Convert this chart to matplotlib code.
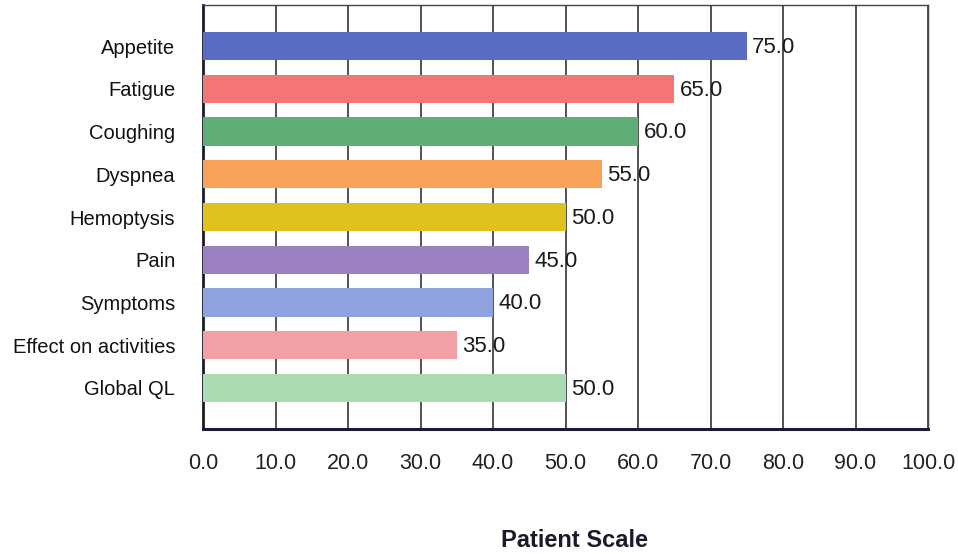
import numpy as np
import matplotlib.pyplot as plt

plt.rcParams['font.family'] = ['Liberation Sans', 'DejaVu Sans']

categories = ['Appetite', 'Fatigue', 'Coughing', 'Dyspnea', 'Hemoptysis',
              'Pain', 'Symptoms', 'Effect on activities', 'Global QL']
values = [75.0, 65.0, 60.0, 55.0, 50.0, 45.0, 40.0, 35.0, 50.0]
colors = ['#5a6cc2', '#f47674', '#5fae78', '#f8a257', '#dfc21e',
          '#9b80c0', '#8ea3e0', '#f39fa6', '#a9dcb2']
xticks = np.arange(0, 101, 10)

fig = plt.figure(figsize=(9.58, 5.54), dpi=100)
ax = fig.add_axes([0.2119, 0.2256, 0.7568, 0.7654])

y = np.arange(len(categories))
ax.barh(y, values, height=0.66, color=colors, zorder=3)

# value labels at the bar ends
for yi, v in zip(y, values):
    ax.annotate(f'{v:.1f}', (v, yi), xytext=(4, -1), textcoords='offset points',
                va='center', ha='left', fontsize=16, color='#1a1a1a', zorder=4)

ax.set_xlim(0, 100)
ax.set_ylim(len(categories) - 0.04, -0.96)
ax.set_xticks(xticks)
ax.set_xticklabels([f'{t:.1f}' for t in xticks], fontsize=15.5, color='#222222')
ax.set_yticks(y)
ax.set_yticklabels(categories, fontsize=14.5, color='#111111')
ax.tick_params(axis='x', length=0, pad=17)
ax.tick_params(axis='y', length=0, pad=20)
ax.grid(axis='x', color='#222222', linewidth=1.1, zorder=1)

for side in ['top', 'right']:
    ax.spines[side].set_color('#444444')
    ax.spines[side].set_linewidth(1.0)
ax.spines['left'].set_color('#1a1a2a')
ax.spines['left'].set_linewidth(2.0)
ax.spines['bottom'].set_color('#1a1a3a')
ax.spines['bottom'].set_linewidth(2.2)

fig.text(0.600, 0.004, 'Patient Scale', ha='center', va='bottom',
         fontsize=17, fontweight='bold', color='#1a1a2a')

fig.savefig('out.png', dpi=100)
